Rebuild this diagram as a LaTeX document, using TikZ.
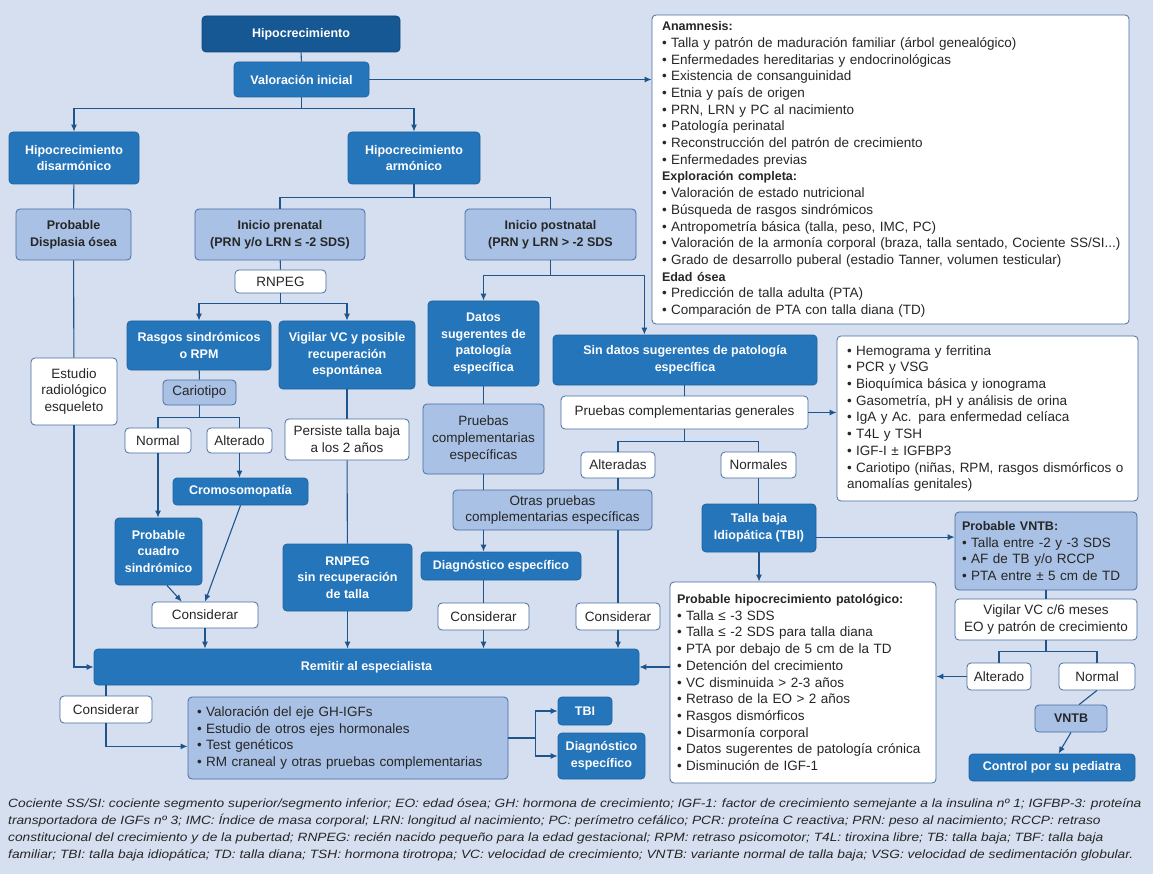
\documentclass[tikz,border=0pt]{standalone}
\usepackage{fontspec}
\usepackage{graphicx}
\setmainfont{Liberation Sans}
\usetikzlibrary{arrows.meta}

\definecolor{bgblue}{RGB}{214,223,240}
\definecolor{darkblue}{RGB}{22,88,148}
\definecolor{midblue}{RGB}{37,117,187}
\definecolor{lightblue}{RGB}{168,193,228}
\definecolor{edgeblue}{RGB}{70,110,160}
\definecolor{linkblue}{RGB}{30,85,140}

\newcommand{\boxfont}{\fontsize{13.5}{16.7}\selectfont}
\newcommand{\headfont}{\fontsize{12.5}{16.7}\selectfont\bfseries}
\newcommand{\notefont}{\fontsize{12}{17.2}\selectfont\itshape}

\tikzset{
  box/.style={rounded corners=4pt, align=center, inner sep=3pt, line width=0.8pt},
  sz/.style 2 args={minimum width=#1, minimum height=#2},
  darkbox/.style={box, fill=darkblue, draw=darkblue!80!black, text=white, font=\headfont},
  midbox/.style={box, fill=midblue, draw=midblue!85!black, text=white, font=\headfont},
  lightbox/.style={box, fill=lightblue, draw=edgeblue, text=black!85, font=\boxfont},
  whitebox/.style={box, fill=white, draw=edgeblue, text=black!85, font=\boxfont},
  listbox/.style={align=left},
  link/.style={draw=linkblue, line width=1.1pt},
  arr/.style={link, -{Latex[length=7pt,width=6pt]}},
}

\begin{document}
\begin{tikzpicture}[x=1pt, y=-1pt]
    % Background
    \fill[bgblue] (0,0) rectangle (1153,874);

    % Top of the tree
    \node[darkbox, sz={198}{36}] (hipo) at (301,34) {Hipocrecimiento};
    \node[midbox, sz={135}{35}] (valor) at (301.5,79.5) {Valoración inicial};
    \node[midbox, sz={130}{52}] (disarm) at (74,158) {Hipocrecimiento\\disarmónico};
    \node[midbox, sz={132}{52}] (armon) at (414,158) {Hipocrecimiento\\armónico};

    % Disharmonic branch
    \node[lightbox, font=\headfont, sz={115}{51}] (displ) at (73.5,234.5) {Probable\\Displasia ósea};
    \node[whitebox, sz={86}{67}] (estud) at (74,391.5) {Estudio\\radiológico\\esqueleto};

    % Prenatal branch
    \node[lightbox, font=\headfont, sz={170}{51}] (prenat) at (280,234.5) {Inicio prenatal\\(PRN y/o LRN ≤ -2 SDS)};
    \node[whitebox, sz={91}{23}] (rnpeg) at (280.5,281.5) {RNPEG};
    \node[midbox, sz={144}{49}] (rasgos) at (199,345.5) {Rasgos sindrómicos\\o RPM};
    \node[midbox, sz={136}{68}] (vigil) at (347,355) {Vigilar VC y posible\\recuperación\\espontánea};
    \node[lightbox, sz={73}{25}] (cario) at (199.5,392.5) {Cariotipo};
    \node[whitebox, sz={66}{25}] (normL) at (158,440.5) {Normal};
    \node[whitebox, sz={65}{25}] (altL) at (239.5,440.5) {Alterado};
    \node[midbox, sz={135}{27}] (cromo) at (240.5,491.5) {Cromosomopatía};
    \node[midbox, sz={87}{67}] (cuadro) at (158.5,551.5) {Probable\\cuadro\\sindrómico};
    \node[whitebox, sz={106}{26}] (consA) at (205,615) {Considerar};
    \node[whitebox, sz={124}{41}] (persis) at (347,439.5) {Persiste talla baja\\a los 2 años};
    \node[midbox, sz={129}{67}] (rnsin) at (347.5,577.5) {RNPEG\\sin recuperación\\de talla};

    % Postnatal branch
    \node[lightbox, font=\headfont, sz={171}{51}] (postnat) at (550.5,234.5) {Inicio postnatal\\(PRN y LRN > -2 SDS};
    \node[midbox, sz={111}{85}] (datos) at (483.5,343.5) {Datos\\sugerentes de\\patología\\específica};
    \node[midbox, sz={264}{50}] (sindat) at (685,360) {Sin datos sugerentes de patología\\específica};
    \node[lightbox, sz={121}{70}] (pruesp) at (483.5,439) {Pruebas\\complementarias\\específicas};
    \node[lightbox, sz={199}{40}] (otras) at (552.5,510) {Otras pruebas\\complementarias específicas};
    \node[midbox, sz={160}{28}] (diagE) at (501,566) {Diagnóstico específico};
    \node[whitebox, sz={91}{27}] (consC) at (483.5,616.5) {Considerar};
    \node[whitebox, sz={84}{27}] (consD) at (618,616.5) {Considerar};
    \node[whitebox, sz={247}{33}] (prugen) at (684.5,412.5) {Pruebas complementarias generales};
    \node[whitebox, sz={74}{26}] (alterad) at (618,465) {Alteradas};
    \node[whitebox, sz={75}{26}] (normales) at (758.5,465) {Normales};
    \node[midbox, sz={114}{48}] (tbi) at (759,528) {Talla baja\\Idiopática (TBI)};

    % Lists on the right
    \node[whitebox, listbox, text width=457, inner xsep=10, minimum height=309] (anam) at (890.5,169.5) {%
        {\headfont Anamnesis:}\\
        \textbullet\ Talla y patrón de maduración familiar (árbol genealógico)\\
        \textbullet\ Enfermedades hereditarias y endocrinológicas\\
        \textbullet\ Existencia de consanguinidad\\
        \textbullet\ Etnia y país de origen\\
        \textbullet\ PRN, LRN y PC al nacimiento\\
        \textbullet\ Patología perinatal\\
        \textbullet\ Reconstrucción del patrón de crecimiento\\
        \textbullet\ Enfermedades previas\\
        {\headfont Exploración completa:}\\
        \textbullet\ Valoración de estado nutricional\\
        \textbullet\ Búsqueda de rasgos sindrómicos\\
        \textbullet\ Antropometría básica (talla, peso, IMC, PC)\\
        \mbox{\textbullet\ Valoración de la armonía corporal (braza, talla sentado, Cociente SS/SI...)}\\
        \textbullet\ Grado de desarrollo puberal (estadio Tanner, volumen testicular)\\
        {\headfont Edad ósea}\\
        \textbullet\ Predicción de talla adulta (PTA)\\
        \textbullet\ Comparación de PTA con talla diana (TD)};
    \node[whitebox, listbox, text width=281, inner xsep=10, minimum height=165] (hemo) at (987.5,418.5) {%
        \textbullet\ Hemograma y ferritina\\
        \textbullet\ PCR y VSG\\
        \textbullet\ Bioquímica básica y ionograma\\
        \textbullet\ Gasometría, pH y análisis de orina\\
        \textbullet\ IgA y Ac. para enfermedad celíaca\\
        \textbullet\ T4L y TSH\\
        \textbullet\ IGF-I ± IGFBP3\\
        \textbullet\ Cariotipo (niñas, RPM, rasgos dismórficos o\\
        anomalías genitales)};
    \node[lightbox, listbox, text width=168, inner xsep=7, minimum height=78] (pvntb) at (1046,551) {%
        {\headfont Probable VNTB:}\\
        \textbullet\ Talla entre -2 y -3 SDS\\
        \textbullet\ AF de TB y/o RCCP\\
        \textbullet\ PTA entre ± 5 cm de TD};
    \node[whitebox, sz={182}{41}] (vigil6) at (1046,619.5) {Vigilar VC c/6 meses\\EO y patrón de crecimiento};
    \node[whitebox, sz={64}{27}] (altR) at (999,676.5) {Alterado};
    \node[whitebox, sz={76}{27}] (normR) at (1097,676.5) {Normal};
    \node[lightbox, font=\headfont, sz={72}{27}] (vntb) at (1071,718.5) {VNTB};
    \node[midbox, sz={166}{27}] (control) at (1052,767.5) {Control por su pediatra};
    \node[whitebox, listbox, text width=252, inner xsep=7, minimum height=201] (hipopat) at (803,682.5) {%
        {\headfont Probable hipocrecimiento patológico:}\\
        \textbullet\ Talla ≤ -3 SDS\\
        \textbullet\ Talla ≤ -2 SDS para talla diana\\
        \textbullet\ PTA por debajo de 5 cm de la TD\\
        \textbullet\ Detención del crecimiento\\
        \textbullet\ VC disminuida > 2-3 años\\
        \textbullet\ Retraso de la EO > 2 años\\
        \textbullet\ Rasgos dismórficos\\
        \textbullet\ Disarmonía corporal\\
        \textbullet\ Datos sugerentes de patología crónica\\
        \textbullet\ Disminución de IGF-1};

    % Referral and follow-up
    \node[midbox, sz={545}{36}] (remit) at (366.5,667) {Remitir al especialista};
    \node[whitebox, sz={92}{27}] (consB) at (106,709.5) {Considerar};
    \node[lightbox, listbox, text width=302, inner xsep=9, minimum height=82] (ejes) at (348,738) {%
        \textbullet\ Valoración del eje GH-IGFs\\
        \textbullet\ Estudio de otros ejes hormonales\\
        \textbullet\ Test genéticos\\
        \textbullet\ RM craneal y otras pruebas complementarias};
    \node[midbox, sz={54}{28}] (tbiS) at (585,711) {TBI};
    \node[midbox, sz={87}{46}] (diagS) at (601.5,756) {Diagnóstico\\específico};

    % Abbreviations
    \node[anchor=north west, font=\notefont, inner sep=0, text=black!85] (notes) at (8,795) {%
        \scalebox{1.145}[1]{\begin{tabular}{@{}l@{}}
        Cociente SS/SI: cociente segmento superior/segmento inferior; EO: edad ósea; GH: hormona de crecimiento; IGF-1: factor de crecimiento semejante a la insulina nº 1; IGFBP-3: proteína\\
        transportadora de IGFs nº 3; IMC: Índice de masa corporal; LRN: longitud al nacimiento; PC: perímetro cefálico; PCR: proteína C reactiva; PRN: peso al nacimiento; RCCP: retraso\\
        constitucional del crecimiento y de la pubertad; RNPEG: recién nacido pequeño para la edad gestacional; RPM: retraso psicomotor; T4L: tiroxina libre; TB: talla baja; TBF: talla baja\\
        familiar; TBI: talla baja idiopática; TD: talla diana; TSH: hormona tirotropa; VC: velocidad de crecimiento; VNTB: variante normal de talla baja; VSG: velocidad de sedimentación globular.
        \end{tabular}}};

    % Connectors, top
    \draw[link] (hipo.south) -- (valor.north);
    \draw[arr] (valor.east) -- (valor.east -| anam.west);
    \draw[arr] (valor.south) -- ++(0,11) -| (disarm.north);
    \draw[arr] (valor.south) -- ++(0,11) -| (armon.north);
    \draw[link] (disarm) -- (displ);
    \draw[link] (displ) -- (estud);
    \draw[arr] (estud.south) |- (remit.west);
    \draw[link] (armon.south) -- ++(0,13) -| (prenat.north);
    \draw[link] (armon.south) -- ++(0,13) -| (postnat.north);

    % Connectors, prenatal
    \draw[link] (prenat) -- (rnpeg);
    \draw[arr] (rnpeg.south) -- ++(0,10) -| (rasgos.north);
    \draw[arr] (rnpeg.south) -- ++(0,10) -| (vigil.north);
    \draw[link] (rasgos) -- (cario);
    \draw[link] (cario.south) -- ++(0,12) -| (normL.north);
    \draw[link] (cario.south) -- ++(0,12) -| (altL.north);
    \draw[arr] (altL.south) -- (altL.south |- cromo.north);
    \draw[arr] (normL.south) -- (normL.south |- cuadro.north);
    \draw[arr] (cromo.south) -- (consA.north);
    \draw[arr] (cuadro.-76) -- (consA.150);
    \draw[link] (vigil) -- (persis);
    \draw[link] (persis) -- (rnsin);

    % Connectors, postnatal
    \draw[arr] (postnat.south) -- ++(0,15) -| (datos.north);
    \draw[arr] (postnat.south) -- ++(0,15) -| (sindat.148);
    \draw[link] (datos) -- (pruesp);
    \draw[link] (pruesp.south) -- (pruesp.south |- otras.north);
    \draw[arr] (pruesp.south |- otras.south) -- (pruesp.south |- diagE.north);
    \draw[link] (consC.north |- diagE.south) -- (consC.north);
    \draw[link] (prugen.north |- sindat.south) -- (prugen.north);
    \draw[arr] (prugen.east) -- (prugen.east -| hemo.west);
    \draw[link] (prugen.south) -- ++(0,12) -| (alterad.north);
    \draw[link] (prugen.south) -- ++(0,12) -| (normales.north);
    \draw[link] (alterad.south) -- (alterad.south |- otras.north);
    \draw[link] (alterad.south |- otras.south) -- (consD.north);
    \draw[link] (normales.south) -- (normales.south |- tbi.north);
    \draw[arr] (tbi.south) -- (tbi.south |- hipopat.north);
    \draw[arr] (tbi.-9) -- (tbi.-9 -| pvntb.west);

    % Connectors into the referral box
    \foreach \n in {consA,consC,consD,rnsin}
        \draw[arr] (\n.south) -- (\n.south |- remit.north);
    \draw[arr] (remit.east -| hipopat.west) -- (remit.east);
    \draw[link] (remit.south -| consB.north) -- (consB.north);
    \draw[arr] (consB.south) |- (ejes.183);
    \draw[arr] (ejes.east) -- ++(27,0) |- (tbiS.west);
    \draw[arr] (ejes.east) -- ++(27,0) |- (diagS.west);

    % Connectors, follow-up on the right
    \draw[link] (pvntb) -- (vigil6);
    \draw[link] (vigil6.south) -- ++(0,11) -| (altR.north);
    \draw[link] (vigil6.south) -- ++(0,11) -| (normR.north);
    \draw[arr] (altR.west) -- (altR.west -| hipopat.east);
    \draw[link] (normR.south) -- (vntb.60);
    \draw[arr] (vntb.south) -- (control.65);
\end{tikzpicture}
\end{document}
